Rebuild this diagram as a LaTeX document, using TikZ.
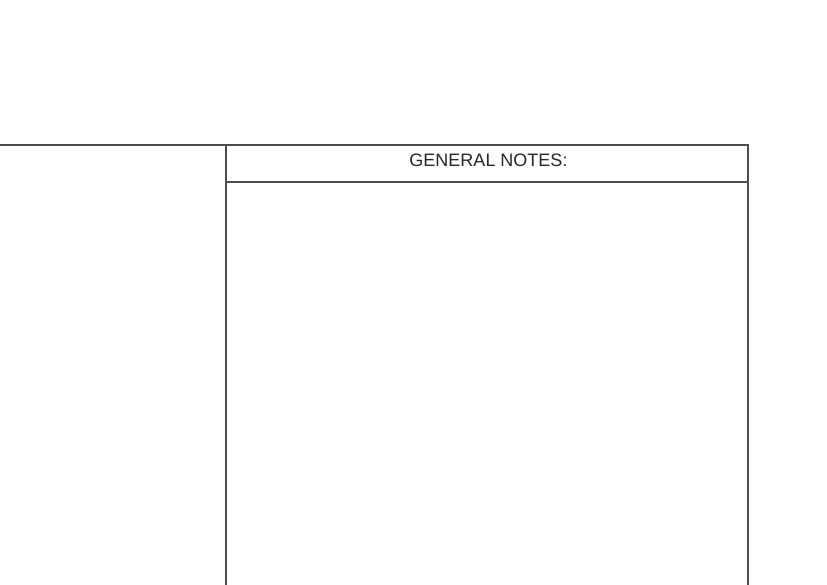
\documentclass[tikz,border=0pt]{standalone}
\usepackage{fontspec}
\setmainfont{Liberation Sans}
\begin{document}
\begin{tikzpicture}[x=1pt, y=-1pt, line width=1.4pt]
        \useasboundingbox (0, 0) rectangle (827, 585);
        \draw[color=black!70] (0, 145) -- (226, 145);
        \draw[color=black!70] (226, 585) -- (226, 145) -- (748, 145)
        -- (748, 585);
        \draw[color=black!70] (226, 182) -- (748, 182);
        \node[anchor=base, inner sep=0pt, font=\fontsize{18}{20}\selectfont,
        text=black!85] (notes) at (488.5, 167) {GENERAL NOTES:};
    \end{tikzpicture}
\end{document}
